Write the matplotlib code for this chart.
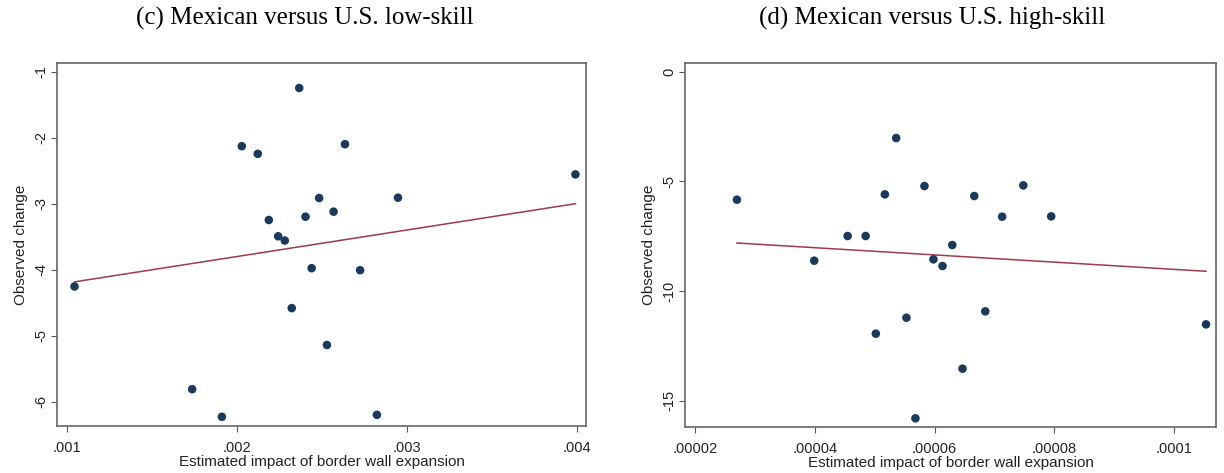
import numpy as np
import matplotlib.pyplot as plt
from matplotlib.ticker import FuncFormatter

# (c) Mexican versus U.S. low-skill
low_x = [0.001046, 0.001738, 0.001913, 0.002030, 0.002124, 0.002189, 0.002244,
         0.002283, 0.002324, 0.002368, 0.002405, 0.002441, 0.002485, 0.002531,
         0.002570, 0.002637, 0.002726, 0.002825, 0.002949, 0.003993]
low_y = [-4.256, -5.813, -6.232, -2.129, -2.245, -3.248, -3.495,
         -3.560, -4.584, -1.247, -3.198, -3.979, -2.915, -5.143,
         -3.122, -2.099, -4.009, -6.202, -2.910, -2.557]
# fitted line read at the two ends of the x range
low_fit = [-4.186, -3.001]

# (d) Mexican versus U.S. high-skill
high_x = [0.00002700, 0.0000399, 0.00004547, 0.00004848, 0.00005018, 0.00005169,
          0.00005358, 0.00005529, 0.00005679, 0.0000583, 0.0000598, 0.00006131,
          0.00006294, 0.00006465, 0.00006661, 0.00006845, 0.00007126, 0.00007480,
          0.00007945, 0.0001053]
high_y = [-5.836, -8.617, -7.492, -7.492, -11.945, -5.593,
          -3.024, -11.216, -15.805, -5.213, -8.556, -8.860,
          -7.903, -13.541, -5.669, -10.927, -6.611, -5.182,
          -6.596, -11.52]
high_fit = [-7.81, -9.10]

low_xticks = [0.001, 0.002, 0.003, 0.004]
low_yticks = [-1, -2, -3, -4, -5, -6]
high_xticks = [0.00002, 0.00004, 0.00006, 0.00008, 0.0001]
high_yticks = [0, -5, -10, -15]

navy = '#1a3a5c'
maroon = '#a03a4a'

plt.rcParams['font.family'] = ['Liberation Sans', 'DejaVu Sans']


def stata_num(v, pos):
    s = ('%.6f' % v).rstrip('0').rstrip('.')
    if s.startswith('0.'):
        s = s[1:]
    elif s.startswith('-0.'):
        s = '-' + s[2:]
    return s


def panel(ax, x, y, fit, xticks, yticks, xlim, ylim, title, title_x):
    ax.scatter(x, y, s=38, color=navy, edgecolors='none', zorder=3)
    ax.plot([min(x), max(x)], fit, color=maroon, lw=1.1, zorder=2)
    ax.set_xlim(xlim)
    ax.set_ylim(ylim)
    ax.set_xticks(xticks)
    ax.set_yticks(yticks)
    ax.xaxis.set_major_formatter(FuncFormatter(stata_num))
    ax.yaxis.set_major_formatter(FuncFormatter(stata_num))
    ax.tick_params(direction='out', length=4, width=0.8, color='#555555',
                   labelsize=10.5, labelcolor='#222222')
    ax.tick_params(axis='x', pad=7)
    ax.tick_params(axis='y', pad=2.5)
    for lab in ax.get_yticklabels():
        lab.set_rotation(90)
        lab.set_va('center')
    for sp in ax.spines.values():
        sp.set_color('#666666')
        sp.set_linewidth(1.2)
    ax.set_xlabel('Estimated impact of border wall expansion', fontsize=11,
                  color='#222222', labelpad=0)
    ax.set_ylabel('Observed change', fontsize=11, color='#222222', labelpad=4)
    fig.text(title_x, 0.962, title, ha='center', va='center',
             fontsize=18, family='Liberation Serif')


fig = plt.figure(figsize=(12.24, 4.73), dpi=100)
W, H = 1224, 473
ax1 = fig.add_axes([57 / W, 1 - 426 / H, (586 - 57) / W, (426 - 63) / H])
ax2 = fig.add_axes([685 / W, 1 - 427 / H, (1216 - 685) / W, (427 - 63) / H])

panel(ax1, low_x, low_y, low_fit, low_xticks, low_yticks, (0.000943, 0.004055),
      (-6.371, -0.868), '(c) Mexican versus U.S. low-skill', 305 / W)
panel(ax2, high_x, high_y, high_fit, high_xticks, high_yticks,
      (0.00001833, 0.00010696), (-16.2, 0.397),
      '(d) Mexican versus U.S. high-skill', 932 / W)

fig.savefig('out.png', dpi=100)
